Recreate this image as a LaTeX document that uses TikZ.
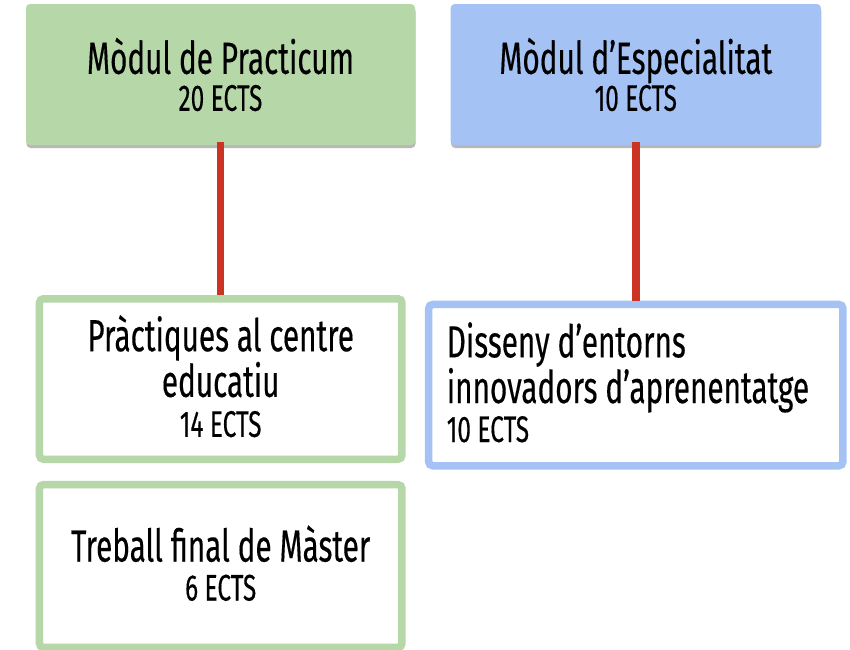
\documentclass[tikz,border=0pt]{standalone}
\usepackage{fontspec}
\setmainfont{Fira Sans}[FakeStretch=0.66, FakeBold=0.3]
\usetikzlibrary{shadows}
\definecolor{grn}{HTML}{B6D7A8}
\definecolor{blu}{HTML}{A4C2F4}
\definecolor{redl}{HTML}{CC3322}
\tikzset{
  sh/.style={drop shadow={shadow xshift=0.5pt, shadow yshift=-3pt, opacity=0.28, fill=black}},
  filledbox/.style={sh, rounded corners=4pt, inner sep=0pt, align=center,
    font=\fontsize{45}{37}\selectfont},
  outlinebox/.style={sh, rounded corners=4pt, inner sep=0pt, fill=white, line width=7.5pt},
  link/.style={redl, line width=7.5pt}
}
\newcommand{\subsz}{\fontsize{37}{37}\selectfont}
\newcommand{\lift}{\rule[-6pt]{0pt}{0pt}}
\begin{document}
\begin{tikzpicture}[x=1pt,y=-1pt]
\useasboundingbox (0,0) rectangle (850,649);
\node[filledbox, fill=grn, minimum width=389pt, minimum height=141pt] (pA) at (220.5,74.5)
  {Mòdul de Practicum\\{\subsz 20 ECTS}};
\node[filledbox, fill=blu, minimum width=370.3pt, minimum height=141pt] (pB) at (635.8,74.5)
  {Mòdul d’Especialitat\\{\subsz 10 ECTS}};
\node[outlinebox, draw=grn, minimum width=362.5pt, minimum height=160.5pt, align=center,
  font=\fontsize{45}{43}\selectfont] (pC) at (220.7,379)
  {Pràctiques al centre\\educatiu\\[-3pt]{\subsz 14 ECTS}\lift};
\node[outlinebox, draw=blu, minimum width=414.2pt, minimum height=161.3pt, align=flush left,
  text width=378pt, font=\fontsize{45}{44}\selectfont] (pD) at (635.8,385.1)
  {Disseny d’entorns\\innovadors d’aprenentatge\\[-5pt]{\subsz 10 ECTS}\lift};
\node[outlinebox, draw=grn, minimum width=362.5pt, minimum height=162.8pt, align=center,
  font=\fontsize{45}{39}\selectfont] (pE) at (220.7,566)
  {Treball final de Màster\\{\subsz 6 ECTS}\lift};
\draw[link] ([yshift=3pt]pA.south) -- (pA.south |- pC.north);
\draw[link] ([yshift=3pt]pB.south) -- (pB.south |- pD.north);
\end{tikzpicture}
\end{document}
